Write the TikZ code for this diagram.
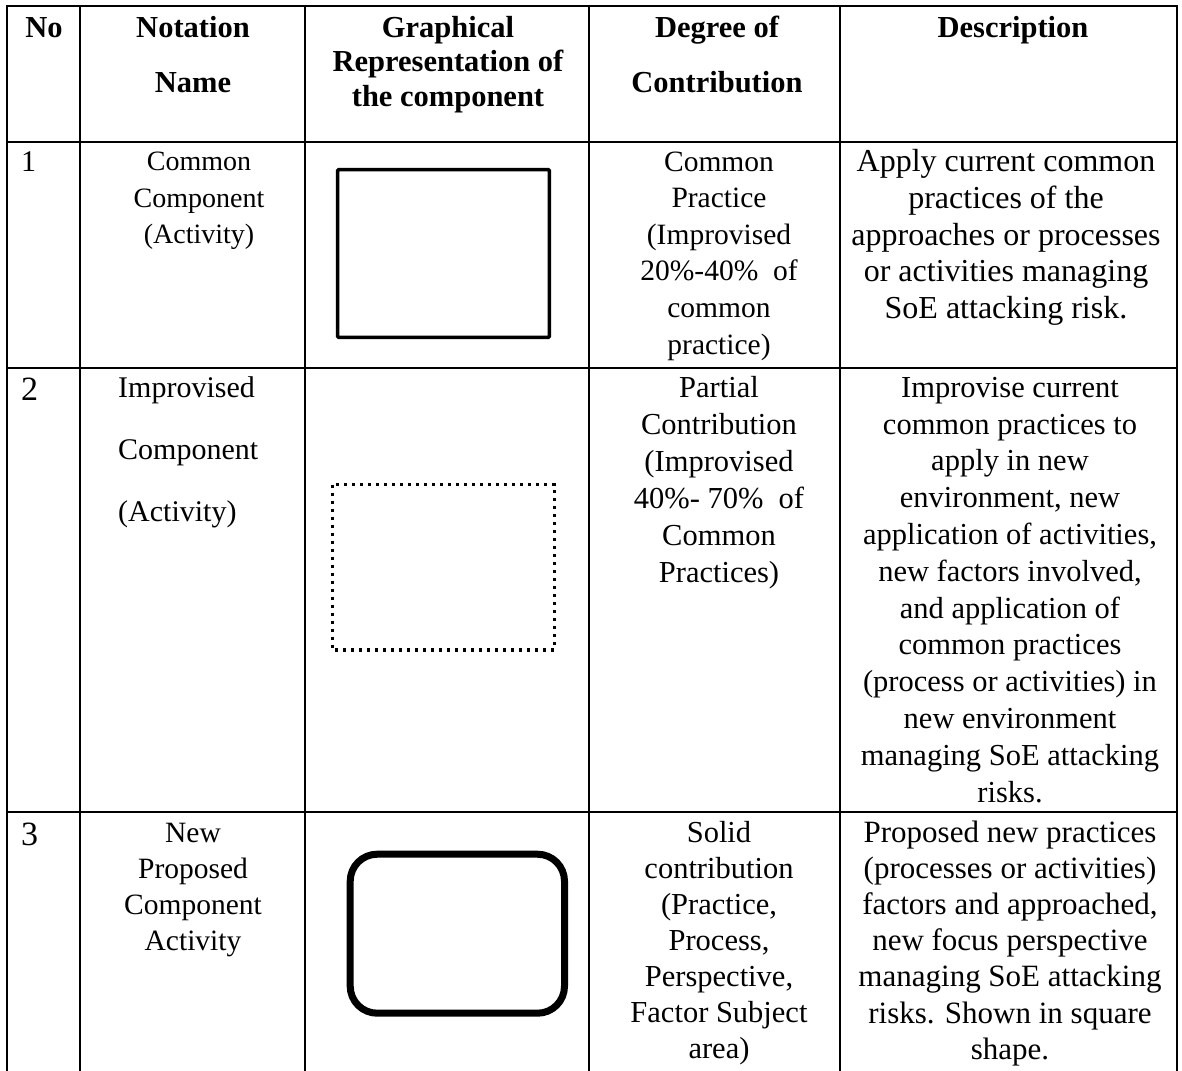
\documentclass[tikz,border=0pt]{standalone}
\usepackage{fontspec}
\setmainfont{Liberation Serif}
\begin{document}
\begin{tikzpicture}[x=1pt,y=-1pt,
  grid/.style={line width=2.6pt,line cap=rect},
  % cell text: #1 = font size, #2 = line skip; the node is placed by the
  % visual centre of its first line (each text starts with a \strut)
  cell/.style n args={2}{font=\fontsize{#1}{#2}\selectfont,anchor=north,inner sep=0pt,
    align=center,yshift={(0.7*#2-0.3*#1)*1pt}},
  head/.style n args={2}{cell={#1}{#2},font=\fontsize{#1}{#2}\selectfont\bfseries},
  num/.style={cell={#1}{36.7},anchor=north west,align=left},
  plainbox/.style={line width=3.5pt,rounded corners=1pt},
  dotbox/.style={line width=3.3pt,dash pattern=on 3.3pt off 4.7pt},
  newbox/.style={line width=7pt,rounded corners=27pt}]

\useasboundingbox[fill=white] (0,0) rectangle (1182,1070);

% table rules
\draw[grid] (7,6) -- (1177,6);
\draw[grid] (7,142) -- (1177,142);
\draw[grid] (7,368) -- (1177,368);
\draw[grid] (7,812) -- (1177,812);
\foreach \cx in {7,80,305,589,840,1177}
  \draw[grid] (\cx,6) -- (\cx,1072);

% header row
\node[head={30.5}{36}] (hno) at (44,28) {\strut No};
\node[head={30.5}{55}] (hname) at (193,28) {\strut Notation\\Name};
\node[head={30.5}{34.5}] (hgraph) at (448,28) {\strut Graphical\\Representation of\\the component};
\node[head={30.5}{55}] (hdeg) at (717,28) {\strut Degree of\\Contribution};
\node[head={30.5}{36}] (hdesc) at (1013,28) {\strut Description};

% row 1
\node[num=30] (n1) at (21,162) {\strut 1};
\node[cell={28}{36.6}] (name1) at (199,162) {\strut Common\\Component\\(Activity)};
\draw[plainbox] (337.7,169.7) rectangle (549.3,337.3);
\node[cell={29.5}{36.6}] (deg1) at (719,162)
  {\strut Common\\Practice\\(Improvised\\20\%-40\%~~of\\common\\practice)};
\node[cell={32}{36.6}] (desc1) at (1006,162)
  {\strut Apply current common\\practices of the\\approaches or processes\\or activities managing\\SoE attacking risk.};

% row 2
\node[num=34] (n2) at (21,390) {\strut 2};
\node[cell={30}{62},anchor=north west,align=left] (name2) at (118,388)
  {\strut Improvised\\Component\\(Activity)};
\draw[dotbox] (332.3,484.7) rectangle (554.3,650);
\node[cell={30.5}{37}] (deg2) at (719,388)
  {\strut Partial\\Contribution\\(Improvised\\40\%- 70\%~~of\\Common\\Practices)};
\node[cell={30.5}{36.8}] (desc2) at (1010,388)
  {\strut Improvise current\\common practices to\\apply in new\\environment, new\\application of activities,\\new factors involved,\\and application of\\common practices\\(process or activities) in\\new environment\\managing SoE attacking\\risks.};

% row 3
\node[num=34] (n3) at (21,835) {\strut 3};
\node[cell={29.5}{36.1}] (name3) at (193,833)
  {\strut New\\Proposed\\Component\\Activity};
\draw[newbox] (350.2,854.2) rectangle (564.5,1013.2);
\node[cell={30.5}{36.1}] (deg3) at (719,833)
  {\strut Solid\\contribution\\(Practice,\\Process,\\Perspective,\\Factor Subject\\area)};
\node[cell={31}{36.1}] (desc3) at (1010,833)
  {\strut Proposed new practices\\(processes or activities)\\factors and approached,\\new focus perspective\\managing SoE attacking\\risks. Shown in square\\shape.};
\end{tikzpicture}
\end{document}
